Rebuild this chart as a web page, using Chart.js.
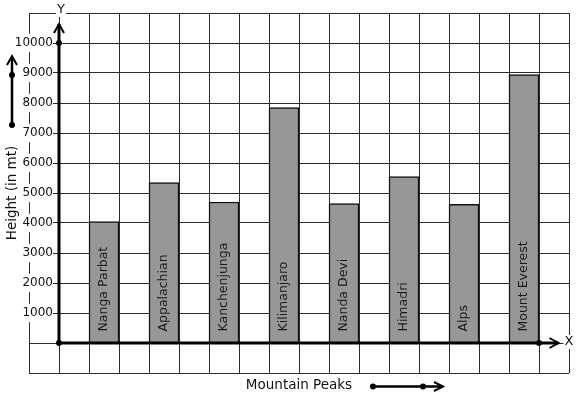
<!DOCTYPE html>
<html>
<head>
<meta charset="utf-8">
<script src="https://cdn.jsdelivr.net/npm/chart.js@4"></script>
<style>
  html, body { margin: 0; padding: 0; background: #fff; }
</style>
</head>
<body>
<canvas id="peakChart" width="577" height="399"></canvas>
<script>
// values (1 square = 1000 m)
const peaks = ["Nanga Parbat", "Appalachian", "Kanchenjunga", "Kilimanjaro", "Nanda Devi", "Himadri", "Alps", "Mount Everest"];
const heights = [4050, 5350, 4700, 7850, 4650, 5550, 4620, 8950];
const yTicks = [1000, 2000, 3000, 4000, 5000, 6000, 7000, 8000, 9000, 10000];

Chart.defaults.font.family = "'DejaVu Sans', sans-serif";

// bars sit on every second square, starting one square right of the Y axis
const barData = heights.map((h, i) => ({ x: 2 * i + 1.5, y: h }));

const gridLine = { color: "#2b2b2b", lineWidth: 1, drawTicks: false, offset: false };

function chevron(ctx, tx, ty, ax, ay, bx, by) {
  ctx.beginPath();
  ctx.moveTo(ax, ay);
  ctx.lineTo(tx, ty);
  ctx.lineTo(bx, by);
  ctx.stroke();
}

function dot(ctx, px, py, r) {
  ctx.beginPath();
  ctx.arc(px, py, r, 0, Math.PI * 2);
  ctx.fill();
}

function boxedText(ctx, text, px, py) {
  const w = ctx.measureText(text).width;
  ctx.fillStyle = "#fff";
  ctx.fillRect(px - w / 2 - 1, py - 7, w + 2, 14);
  ctx.fillStyle = "#111";
  ctx.fillText(text, px, py);
}

const paperExtras = {
  id: "paperExtras",
  afterDatasetsDraw(chart) {
    const { ctx, scales: { x, y } } = chart;
    const meta = chart.getDatasetMeta(0);

    // names written up inside the bars
    ctx.save();
    ctx.font = "12.5px 'DejaVu Sans'";
    ctx.fillStyle = "#1a1a1a";
    ctx.textAlign = "left";
    ctx.textBaseline = "middle";
    meta.data.forEach((bar, i) => {
      ctx.save();
      ctx.translate(bar.x, bar.base - 11);
      ctx.rotate(-Math.PI / 2);
      ctx.fillText(peaks[i], 0, 0);
      ctx.restore();
    });
    ctx.restore();

    // thick axes with arrows
    const x0 = x.getPixelForValue(0);
    const y0 = y.getPixelForValue(0);
    const yTop = y.getPixelForValue(10630);
    const xEnd = x.getPixelForValue(16.65);
    ctx.save();
    ctx.strokeStyle = "#000";
    ctx.fillStyle = "#000";
    ctx.lineWidth = 3;
    ctx.beginPath();
    ctx.moveTo(x0, y0);
    ctx.lineTo(x0, yTop);
    ctx.moveTo(x0, y0);
    ctx.lineTo(xEnd, y0);
    ctx.stroke();
    ctx.lineWidth = 2;
    chevron(ctx, x0, yTop, x0 - 5, yTop + 9, x0 + 5, yTop + 9);
    chevron(ctx, xEnd, y0, xEnd - 9, y0 - 5, xEnd - 9, y0 + 5);
    dot(ctx, x0, y0, 3);
    dot(ctx, x0, y.getPixelForValue(10000), 3);
    dot(ctx, x.getPixelForValue(16), y0, 3);

    // side arrow next to the Y title and arrow after the X title
    ctx.lineWidth = 2.5;
    ctx.beginPath();
    ctx.moveTo(12, 125);
    ctx.lineTo(12, 58);
    ctx.moveTo(372, 386.5);
    ctx.lineTo(441, 386.5);
    ctx.stroke();
    ctx.lineWidth = 2;
    chevron(ctx, 12, 56, 7, 65, 17, 65);
    chevron(ctx, 443, 386.5, 434, 382, 434, 391);
    dot(ctx, 12, 125, 3);
    dot(ctx, 12, 75, 3);
    dot(ctx, 373, 386.5, 3);
    dot(ctx, 423, 386.5, 3);

    // axis letters
    ctx.font = "13px 'DejaVu Sans'";
    ctx.textAlign = "center";
    ctx.textBaseline = "middle";
    boxedText(ctx, "Y", x0 + 2, 10);
    boxedText(ctx, "X", x.getPixelForValue(17), y0 - 1);
    ctx.restore();
  }
};

new Chart(document.getElementById("peakChart"), {
  type: "bar",
  data: {
    datasets: [{
      label: "Height (in mt)",
      data: barData,
      backgroundColor: "#979797",
      borderColor: "#111",
      borderWidth: 1.5,
      borderSkipped: "bottom",
      barThickness: 30
    }]
  },
  options: {
    responsive: false,
    animation: false,
    devicePixelRatio: 1,
    layout: { padding: { left: 0, top: 13, right: 8, bottom: 0 } },
    plugins: { legend: { display: false }, tooltip: { enabled: false } },
    scales: {
      x: {
        type: "linear",
        position: "bottom",
        offset: false,
        min: -1,
        max: 17,
        ticks: { display: false, stepSize: 1, maxTicksLimit: 100 },
        grid: gridLine,
        border: { display: false },
        title: {
          display: true,
          text: "Mountain Peaks",
          color: "#111",
          font: { size: 13.5 },
          padding: { top: 3.9, bottom: 5.9 }
        }
      },
      y: {
        type: "linear",
        position: "left",
        min: -1000,
        max: 11000,
        ticks: { display: false, stepSize: 1000, maxTicksLimit: 100 },
        grid: gridLine,
        border: { display: false },
        title: {
          display: true,
          text: "Height (in mt)",
          color: "#111",
          font: { size: 13.5 },
          padding: { top: 4.4, bottom: 8.4 }
        }
      },
      // tick labels hang off the Y axis, a tick-length (0.2 square) left of it
      yLabels: {
        type: "linear",
        axis: "y",
        position: { x: -0.2 },
        min: -1000,
        max: 11000,
        afterBuildTicks: (scale) => { scale.ticks = yTicks.map(v => ({ value: v })); },
        grid: { display: false },
        border: { display: false },
        ticks: {
          padding: 0,
          color: "#111",
          font: { size: 12 },
          autoSkip: false,
          callback: (v) => String(v),
          showLabelBackdrop: true,
          backdropColor: "#fff",
          backdropPadding: { top: 2, bottom: 2, left: 1, right: 0 }
        }
      }
    }
  },
  plugins: [paperExtras]
});
</script>
</body>
</html>
